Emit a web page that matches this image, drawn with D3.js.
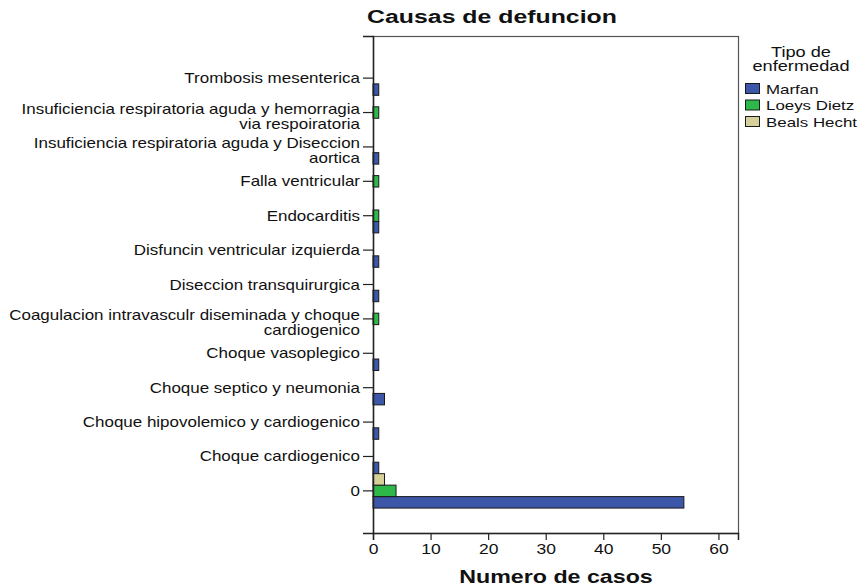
<!DOCTYPE html>
<html>
<head>
<meta charset="utf-8">
<script src="https://cdn.jsdelivr.net/npm/d3@7"></script>
<style>
  html, body { margin: 0; padding: 0; background: #fff; }
  svg { display: block; }
  text { font-family: "Liberation Sans", Arial, sans-serif; fill: #111; }
</style>
</head>
<body>
<div id="chart"></div>
<script>
// ---------- data ----------
const categories = [
  "Trombosis mesenterica",
  "Insuficiencia respiratoria aguda y hemorragia\nvia respoiratoria",
  "Insuficiencia respiratoria aguda y Diseccion\naortica",
  "Falla ventricular",
  "Endocarditis",
  "Disfuncin ventricular izquierda",
  "Diseccion transquirurgica",
  "Coagulacion intravasculr diseminada y choque\ncardiogenico",
  "Choque vasoplegico",
  "Choque septico y neumonia",
  "Choque hipovolemico y cardiogenico",
  "Choque cardiogenico",
  "0"
];
const seriesNames = ["Marfan", "Loeys Dietz", "Beals Hecht"];
const marfan     = [1, 0, 1, 0, 1, 1, 1, 0, 1, 2, 1, 1, 54];
const loeysDietz = [0, 1, 0, 1, 1, 0, 0, 1, 0, 0, 0, 0, 4];
const bealsHecht = [0, 0, 0, 0, 0, 0, 0, 0, 0, 0, 0, 0, 2];
const xTicks = [0, 10, 20, 30, 40, 50, 60];
const colors = ["#3c56a8", "#2fb84a", "#d6d09a"];
const chartTitle = "Causas de defuncion";
const xTitle = "Numero de casos";
const legendTitle = ["Tipo de", "enfermedad"];

// ---------- layout ----------
const W = 859, H = 588;
const plot = { left: 373, right: 738, top: 36, bottom: 533 };
const SX = 1.25; // horizontal text stretch

const svg = d3.select("#chart").append("svg").attr("width", W).attr("height", H);

const x = d3.scaleLinear().domain([0, 63.4]).range([plot.left, plot.right]);
const y = d3.scaleBand().domain(categories).range([plot.top, plot.bottom])
  .paddingInner(0).paddingOuter(0.725);
const sub = d3.scaleBand().domain(["Beals Hecht", "Loeys Dietz", "Marfan"])
  .range([0, y.bandwidth()]).padding(0);

const seriesVals = { "Marfan": marfan, "Loeys Dietz": loeysDietz, "Beals Hecht": bealsHecht };
const colorOf = d3.scaleOrdinal().domain(seriesNames).range(colors);

// frame
svg.append("rect")
  .attr("x", plot.left + 0.5).attr("y", plot.top + 0.5)
  .attr("width", plot.right - plot.left).attr("height", plot.bottom - plot.top)
  .attr("fill", "#fff").attr("stroke", "#555").attr("stroke-width", 1.2);

// bars
const barData = [];
categories.forEach((c, i) => {
  seriesNames.forEach(s => {
    const v = seriesVals[s][i];
    if (v > 0) barData.push({ cat: c, series: s, value: v });
  });
});
svg.append("g").selectAll("rect").data(barData).join("rect")
  .attr("x", x(0))
  .attr("y", d => y(d.cat) + sub(d.series))
  .attr("width", d => x(d.value) - x(0))
  .attr("height", sub.bandwidth())
  .attr("fill", d => colorOf(d.series))
  .attr("stroke", "#1a1a1a").attr("stroke-width", 1);

// y axis (ticks only, labels drawn manually)
const yAxis = svg.append("g").attr("transform", `translate(${plot.left},0)`)
  .call(d3.axisLeft(y).tickSize(10).tickFormat(""));
yAxis.select(".domain").attr("stroke", "#222").attr("stroke-width", 1.5);
yAxis.selectAll(".tick line").attr("stroke", "#222").attr("stroke-width", 1.2);

const yLab = svg.append("g");
categories.forEach(c => {
  const cy = y(c) + y.bandwidth() / 2;
  const lines = c.split("\n");
  lines.forEach((ln, j) => {
    const ty = lines.length === 1 ? cy + 5 : cy + 1 + j * 15;
    yLab.append("text")
      .attr("transform", `translate(360,${ty}) scale(${SX * 0.97},1)`)
      .attr("text-anchor", "end")
      .style("font-size", "14px")
      .text(ln);
  });
});

// x axis
const xAxis = svg.append("g").attr("transform", `translate(0,${plot.bottom})`)
  .call(d3.axisBottom(x).tickValues(xTicks).tickSize(7).tickFormat(d3.format("d")));
xAxis.select(".domain").attr("stroke", "#222").attr("stroke-width", 1.5);
xAxis.selectAll(".tick line").attr("stroke", "#222").attr("stroke-width", 1.2);
xAxis.selectAll(".tick text")
  .attr("y", 0).attr("dy", 0)
  .attr("transform", `translate(0,21) scale(${SX},1)`)
  .style("font-size", "14px").style("font-family", "Liberation Sans, Arial, sans-serif")
  .attr("fill", "#111");

// title
svg.append("text")
  .attr("transform", `translate(492,23) scale(1.38,1)`)
  .attr("text-anchor", "middle")
  .style("font-size", "18px").style("font-weight", "bold")
  .text(chartTitle);

// x title
svg.append("text")
  .attr("transform", `translate(556,583) scale(1.29,1)`)
  .attr("text-anchor", "middle")
  .style("font-size", "18px").style("font-weight", "bold")
  .text(xTitle);

// legend
const lg = svg.append("g");
legendTitle.forEach((t, i) => {
  lg.append("text")
    .attr("transform", `translate(801,${57 + i * 14}) scale(1.3,1)`)
    .attr("text-anchor", "middle")
    .style("font-size", "14px")
    .text(t);
});
seriesNames.forEach((s, i) => {
  const cy = 89 + i * 16.5;
  lg.append("rect")
    .attr("x", 745.5).attr("y", cy - 5.5)
    .attr("width", 14).attr("height", 10)
    .attr("fill", colorOf(s)).attr("stroke", "#1a1a1a").attr("stroke-width", 1);
  lg.append("text")
    .attr("transform", `translate(766,${cy + 4.5}) scale(1.3,1)`)
    .style("font-size", "13px")
    .text(s);
});
</script>
</body>
</html>
